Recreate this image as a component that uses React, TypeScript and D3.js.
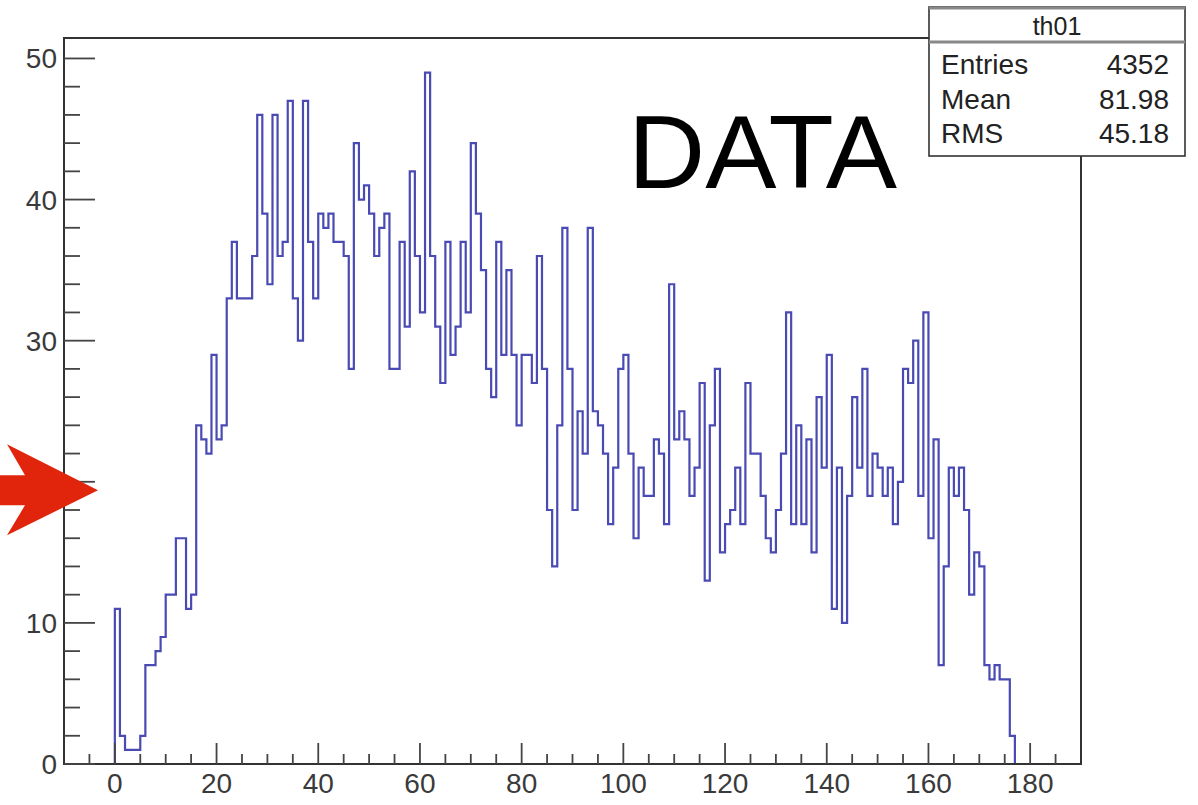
import React, { useEffect, useRef } from 'react';
import * as d3 from 'd3';

// bin contents of th01, one entry per unit bin starting at x = 0
const counts = [
    11, 2, 1, 1, 1, 2, 7, 7, 8, 9,
    12, 12, 16, 16, 11, 12, 24, 23, 22, 29,
    23, 24, 33, 37, 33, 33, 33, 36, 46, 39,
    34, 46, 36, 37, 47, 33, 30, 47, 37, 33,
    39, 38, 39, 37, 37, 36, 28, 44, 40, 41,
    39, 36, 38, 39, 28, 28, 37, 31, 42, 36,
    32, 49, 36, 31, 27, 37, 29, 31, 37, 32,
    44, 39, 35, 28, 26, 37, 29, 35, 29, 24,
    29, 29, 27, 36, 28, 18, 14, 24, 38, 28,
    18, 25, 22, 38, 25, 24, 22, 17, 21, 28,
    29, 22, 16, 21, 19, 19, 23, 22, 17, 34,
    23, 25, 23, 19, 21, 27, 13, 24, 28, 15,
    17, 18, 21, 17, 27, 22, 22, 19, 16, 15,
    18, 22, 32, 17, 24, 17, 23, 15, 26, 21,
    29, 11, 21, 10, 19, 26, 21, 28, 19, 22,
    21, 19, 21, 17, 20, 28, 27, 30, 19, 32,
    16, 23, 7, 14, 21, 19, 21, 18, 12, 15,
    14, 7, 6, 7, 6, 6, 2,
];

const xRange = [-10, 190];
const xMajorTicks = [0, 20, 40, 60, 80, 100, 120, 140, 160, 180];
const xMinorTicks = d3.range(-5, 190, 5).filter(v => v % 20 !== 0);
const yMajorTicks = [0, 10, 20, 30, 40, 50];
const yMinorTicks = d3.range(2, 51, 2).filter(v => v % 10 !== 0);

const histName = 'th01';
const statNames = ['Entries', 'Mean', 'RMS'];
const statValues = ['4352', '81.98', '45.18'];
const overlayText = 'DATA';
const arrowValue = 19.4;

const App = () => {
    const svgRef = useRef<SVGSVGElement>(null);

    const width = 1198;
    const height = 805;
    const frame = { left: 64, right: 1081, top: 38, bottom: 764 };
    const font = '"Liberation Sans", Arial, Helvetica, sans-serif';

    useEffect(() => {
        const svg = d3.select(svgRef.current);
        svg.selectAll('*').remove();

        const x = d3.scaleLinear().domain(xRange).range([frame.left, frame.right]);
        const y = d3.scaleLinear()
            .domain([0, (d3.max(counts) as number) * 1.05])
            .range([frame.bottom, frame.top]);

        svg.append('rect')
            .attr('width', width)
            .attr('height', height)
            .attr('fill', '#ffffff');

        // histogram outline
        const pts: [number, number][] = [[0, 0], ...counts.map((c, i) => [i, c] as [number, number]), [counts.length, 0]];
        const step = d3.line<[number, number]>()
            .x(d => x(d[0]))
            .y(d => y(d[1]))
            .curve(d3.curveStepAfter);

        svg.append('path')
            .attr('d', step(pts))
            .attr('fill', 'none')
            .attr('stroke', '#4a4ab4')
            .attr('stroke-width', 2.2)
            .attr('stroke-linejoin', 'miter');

        // frame
        svg.append('rect')
            .attr('x', frame.left)
            .attr('y', frame.top)
            .attr('width', frame.right - frame.left)
            .attr('height', frame.bottom - frame.top)
            .attr('fill', 'none')
            .attr('stroke', '#333')
            .attr('stroke-width', 2);

        // x ticks
        const gx = svg.append('g').attr('stroke', '#444').attr('stroke-width', 1.8);
        gx.selectAll('.xmaj').data(xMajorTicks).enter().append('line')
            .attr('x1', d => x(d)).attr('x2', d => x(d))
            .attr('y1', frame.bottom).attr('y2', frame.bottom - 21);
        gx.selectAll('.xmin').data(xMinorTicks).enter().append('line')
            .attr('x1', d => x(d)).attr('x2', d => x(d))
            .attr('y1', frame.bottom).attr('y2', frame.bottom - 10);

        svg.append('g').selectAll('text').data(xMajorTicks).enter().append('text')
            .attr('x', d => x(d))
            .attr('y', frame.bottom + 29)
            .attr('text-anchor', 'middle')
            .attr('font-family', font)
            .attr('font-size', 28)
            .attr('fill', '#3a3a3a')
            .text(d => d);

        // y ticks
        const gy = svg.append('g').attr('stroke', '#444').attr('stroke-width', 1.8);
        gy.selectAll('.ymaj').data(yMajorTicks).enter().append('line')
            .attr('x1', frame.left).attr('x2', frame.left + 31)
            .attr('y1', d => y(d)).attr('y2', d => y(d));
        gy.selectAll('.ymin').data(yMinorTicks).enter().append('line')
            .attr('x1', frame.left).attr('x2', frame.left + 16)
            .attr('y1', d => y(d)).attr('y2', d => y(d));

        svg.append('g').selectAll('text').data(yMajorTicks).enter().append('text')
            .attr('x', frame.left - 7)
            .attr('y', d => y(d) + 10)
            .attr('text-anchor', 'end')
            .attr('font-family', font)
            .attr('font-size', 28)
            .attr('fill', '#3a3a3a')
            .text(d => d);

        // stats box
        const box = { left: 929, right: 1185, top: 7, bottom: 156, sep: 42 };
        const gs = svg.append('g');
        gs.append('rect')
            .attr('x', box.left).attr('y', box.top)
            .attr('width', box.right - box.left).attr('height', box.bottom - box.top)
            .attr('fill', '#fff')
            .attr('stroke', '#333')
            .attr('stroke-width', 1.6);
        gs.append('line')
            .attr('x1', box.left).attr('x2', box.right)
            .attr('y1', box.top + 1).attr('y2', box.top + 1)
            .attr('stroke', '#888').attr('stroke-width', 3);
        gs.append('line')
            .attr('x1', box.left).attr('x2', box.right)
            .attr('y1', box.sep).attr('y2', box.sep)
            .attr('stroke', '#888').attr('stroke-width', 3);
        gs.append('text')
            .attr('x', (box.left + box.right) / 2)
            .attr('y', 35)
            .attr('text-anchor', 'middle')
            .attr('font-family', font)
            .attr('font-size', 25)
            .attr('fill', '#222')
            .text(histName);
        statNames.forEach((name, i) => {
            gs.append('text')
                .attr('x', box.left + 12)
                .attr('y', 74 + i * 34.5)
                .attr('font-family', font)
                .attr('font-size', 28)
                .attr('fill', '#222')
                .text(name);
            gs.append('text')
                .attr('x', box.right - 16)
                .attr('y', 74 + i * 34.5)
                .attr('text-anchor', 'end')
                .attr('font-family', font)
                .attr('font-size', 28)
                .attr('fill', '#222')
                .text(statValues[i]);
        });

        // DATA label
        svg.append('text')
            .attr('x', 628)
            .attr('y', 188)
            .attr('font-family', font)
            .attr('font-size', 104)
            .attr('fill', '#000')
            .attr('textLength', 269)
            .attr('lengthAdjust', 'spacingAndGlyphs')
            .text(overlayText);

        // red arrow pointing at the axis
        const ay = y(arrowValue);
        const arrow: [number, number][] = [
            [0, ay - 15], [25, ay - 15], [7, ay - 46], [98, ay],
            [7, ay + 45], [25, ay + 15], [0, ay + 15],
        ];
        svg.append('path')
            .attr('d', d3.line()(arrow) + 'Z')
            .attr('fill', '#e1250d');
    }, []);

    return (
        <svg
            ref={svgRef}
            width={width}
            height={height}
            style={{ position: 'absolute', left: 0, top: 0, display: 'block' }}
        />
    );
};

export default App;
